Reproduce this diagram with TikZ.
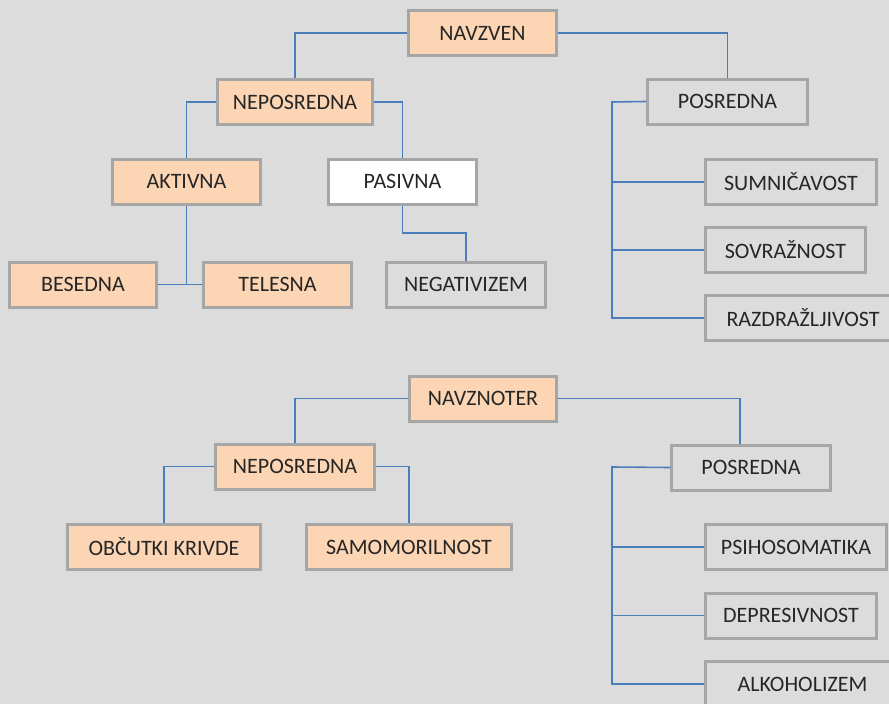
\documentclass[tikz,border=0pt]{standalone}
\usepackage{fontspec}
\setmainfont{Carlito}
\usetikzlibrary{calc}
\definecolor{bgc}{HTML}{DCDCDC}
\definecolor{peach}{HTML}{FCD5B4}
\definecolor{rim}{HTML}{A6A6A6}
\definecolor{wire}{HTML}{4A7EBB}
\begin{document}
\begin{tikzpicture}[x=1pt,y=-1pt,
  box/.style={rectangle, draw=rim, line width=3pt, inner sep=0pt,
    minimum height=45pt, text=black!85,
    font=\fontsize{22}{26}\selectfont},
  hot/.style={box, fill=peach},
  plain/.style={box, fill=white},
  muted/.style={box, fill=bgc},
  link/.style={draw=wire, line width=1.6pt}]
\useasboundingbox (0,0) rectangle (889,704);
\clip (0,0) rectangle (889,704);
\fill[bgc] (0,0) rectangle (889,704);

% upper tree: outward aggression
\node[hot, minimum width=148pt] (navzven) at (482.5,33) {NAVZVEN};
\node[hot, minimum width=155pt] (nep) at (295,102) {NEPOSREDNA};
\node[muted, minimum width=160pt] (pos) at (727.5,101.5) {POSREDNA};
\node[hot, minimum width=148pt] (akt) at (186.5,181.5) {AKTIVNA};
\node[plain, minimum width=148pt] (pas) at (402.5,181.5) {PASIVNA};
\node[hot, minimum width=147pt] (bes) at (83,284.5) {BESEDNA};
\node[hot, minimum width=148pt] (tel) at (277.5,284.5) {TELESNA};
\node[muted, minimum width=159pt] (neg) at (466,284.5) {NEGATIVIZEM};
\node[muted, minimum width=171pt] (sum) at (791,182) {SUMNIČAVOST};
\node[muted, minimum width=160pt] (sov) at (785.5,250) {SOVRAŽNOST};
\node[muted, minimum width=195pt] (raz) at (803,318) {RAZDRAŽLJIVOST};

\path[link] (navzven.west) -| (nep.north);
\path[link] (navzven.east) -| (pos.north);
\path[link] (nep.west) -| (akt.north);
\path[link] (nep.east) -| (pas.north);
\path[link] (akt.south) -- (akt.south |- tel.west);
\path[link] (bes.east) -- (tel.west);
\path[link] (pas.south) |- ($(pas.south)!.5!(neg.north)$) -| (neg.north);
\coordinate (busA) at (612,102);
\path[link] (pos.west) -- (busA) |- (raz.west);
\path[link] (busA |- sum.west) -- (sum.west);
\path[link] (busA |- sov.west) -- (sov.west);

% lower tree: inward aggression
\node[hot, minimum width=147pt] (navzn) at (483,398.5) {NAVZNOTER};
\node[hot, minimum width=159pt] (nepb) at (295,466.5) {NEPOSREDNA};
\node[muted, minimum width=159pt] (posb) at (751,467.5) {POSREDNA};
\node[hot, minimum width=193pt] (obc) at (164,547) {OBČUTKI KRIVDE};
\node[hot, minimum width=205pt] (sam) at (409,547) {SAMOMORILNOST};
\node[muted, minimum width=181pt] (psi) at (796,547) {PSIHOSOMATIKA};
\node[muted, minimum width=171pt] (dep) at (791,615.5) {DEPRESIVNOST};
\node[muted, minimum width=194pt] (alk) at (802.5,684) {ALKOHOLIZEM};

\path[link] (navzn.west) -| (nepb.north);
\coordinate (dropB) at (740,398.5);
\path[link] (navzn.east) -- (dropB) -- (dropB |- posb.north);
\path[link] (nepb.west) -| (obc.north);
\path[link] (nepb.east) -| (sam.north);
\coordinate (busB) at (612,467);
\path[link] (posb.west) -- (busB) |- (alk.west);
\path[link] (busB |- psi.west) -- (psi.west);
\path[link] (busB |- dep.west) -- (dep.west);
\end{tikzpicture}
\end{document}
